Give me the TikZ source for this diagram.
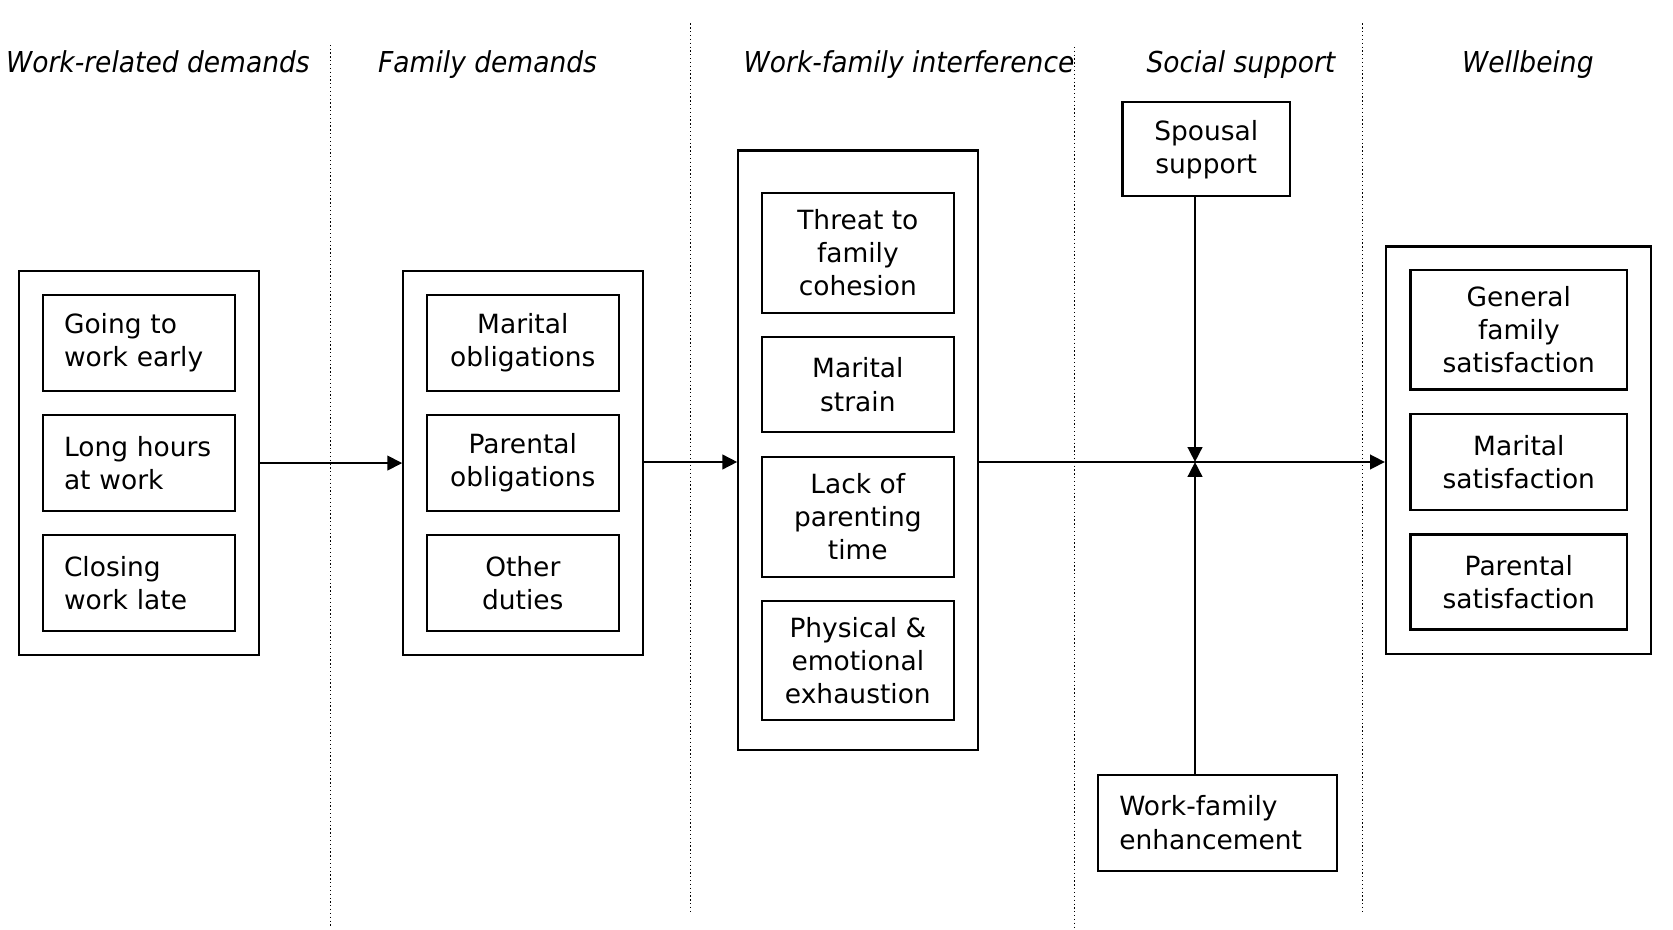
\documentclass[tikz,border=0pt]{standalone}
\usepackage{fontspec}
\setmainfont{DejaVu Sans}
\newfontfamily\headfont[FakeStretch=0.92]{DejaVu Sans}
\usetikzlibrary{arrows.meta,calc}
\begin{document}
\begin{tikzpicture}[x=0.5pt,y=-0.5pt,
  every node/.style={font=\fontsize{12.4}{15.5}\selectfont, inner sep=0pt},
  outer/.style={draw, line width=1pt},
  ibox/.style={draw, line width=1pt, align=center},
  lbox/.style={draw, line width=1pt, text width=70pt, inner xsep=10pt, inner ysep=0pt, minimum height=45pt, align=left},
  head/.style={font=\headfont\itshape\fontsize{13.5}{16}\selectfont, anchor=base},
  sepline/.style={line width=0.6pt, dash pattern=on 0.6pt off 1.2pt},
  conn/.style={line width=1.25pt, -{Triangle[length=7pt,width=6.8pt]}}]
\useasboundingbox (0,0) rectangle (1568,871);

% separators
\draw[sepline] (310,42) -- (310,868);
\draw[sepline] (647,22) -- (647,856);
\draw[sepline] (1007,44) -- (1007,871);
\draw[sepline] (1277,22) -- (1277,856);

% headings
\node[head] (h1) at (148,68) {Work-related demands};
\node[head] (h2) at (457,68) {Family demands};
\node[head] (h3) at (852,68) {Work-family interference};
\node[head] (h4) at (1163,68) {Social support};
\node[head] (h5) at (1432,68) {Wellbeing};

% column 1
\node[outer, minimum width=112.5pt, minimum height=180pt] (b1) at (130.5,434) {};
\node[lbox] (w1) at (130,321.5) {Going to\\work early};
\node[lbox] (w2) at (130,434) {Long hours\\at work};
\node[lbox] (w3) at (130,546.5) {Closing\\work late};

% column 2
\node[outer, minimum width=112.5pt, minimum height=180pt] (b2) at (490.5,434) {};
\node[ibox, minimum width=90pt, minimum height=45pt] (f1) at (490,321.5) {Marital\\obligations};
\node[ibox, minimum width=90pt, minimum height=45pt] (f2) at (490,434) {Parental\\obligations};
\node[ibox, minimum width=90pt, minimum height=45pt] (f3) at (490,546.5) {Other\\duties};

% column 3
\node[outer, minimum width=112.5pt, minimum height=281pt] (b3) at (804.5,422) {};
\node[ibox, minimum width=90pt, minimum height=56pt] (i1) at (804,237) {Threat to\\family\\cohesion};
\node[ibox, minimum width=90pt, minimum height=44.5pt] (i2) at (804,360.5) {Marital\\strain};
\node[ibox, minimum width=90pt, minimum height=56.5pt] (i3) at (804,484.5) {Lack of\\parenting\\time};
\node[ibox, minimum width=90pt, minimum height=56pt] (i4) at (804,619) {Physical \&\\emotional\\exhaustion};

% social support
\node[ibox, minimum width=78.5pt, minimum height=44pt] (sp) at (1130.5,140) {Spousal\\support};
\node[lbox, text width=92pt] (en) at (1141,771) {Work-family\\enhancement};

% column 5
\node[outer, minimum width=124pt, minimum height=191pt] (b5) at (1423,422) {};
\node[ibox, minimum width=101.5pt, minimum height=56pt] (s1) at (1423.5,309) {General\\family\\satisfaction};
\node[ibox, minimum width=101.5pt, minimum height=45pt] (s2) at (1423.5,433) {Marital\\satisfaction};
\node[ibox, minimum width=101.5pt, minimum height=44.5pt] (s3) at (1423.5,545.5) {Parental\\satisfaction};

% connectors
\coordinate (j) at (1120,433);
\draw[conn] (b1.east) -- (b2.west);
\draw[conn] (b2.east |- j) -- (b3.west |- j);
\draw[conn] (b3.east |- j) -- (b5.west |- j);
\draw[conn] (sp.south -| j) -- (j);
\draw[conn] (en.north -| j) -- (j);
\end{tikzpicture}
\end{document}
